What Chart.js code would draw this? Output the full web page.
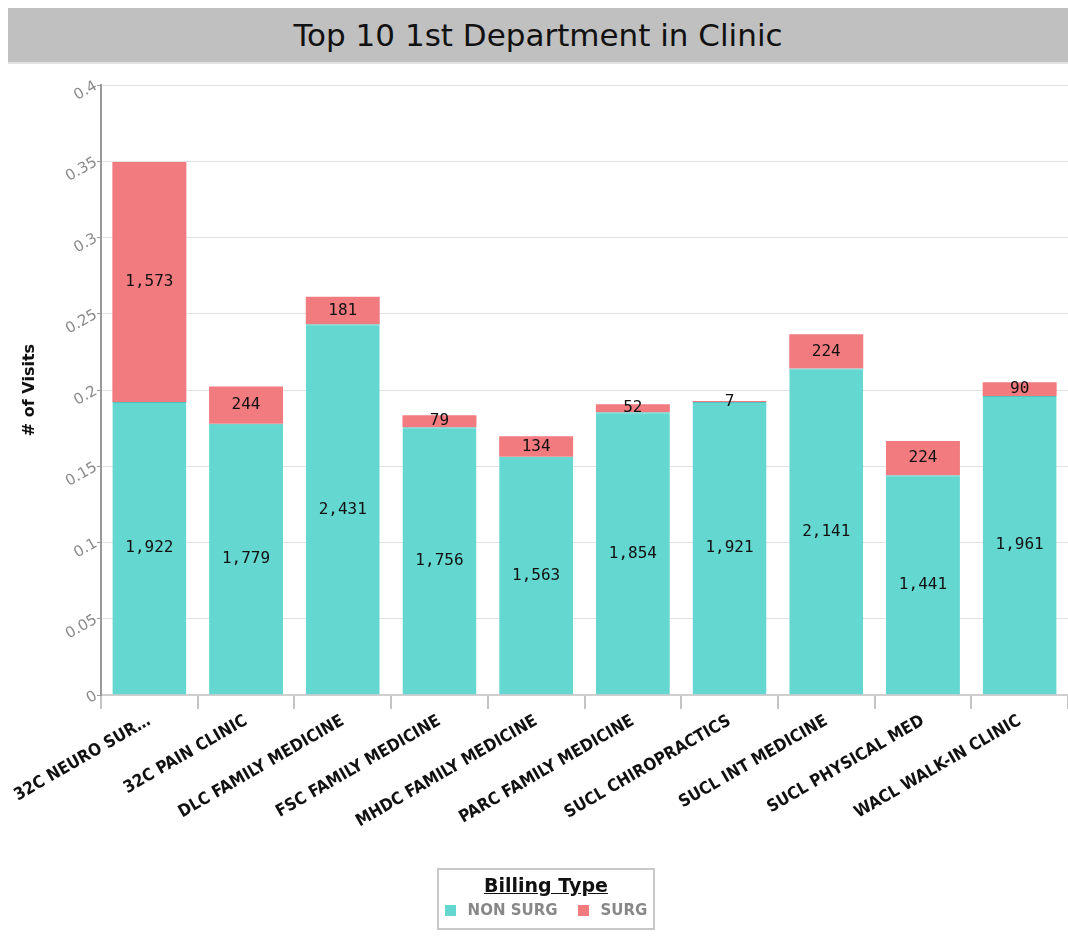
<!DOCTYPE html>
<html>
<head>
<meta charset="utf-8">
<script src="https://cdn.jsdelivr.net/npm/chart.js@4.4.1/dist/chart.umd.min.js"></script>
<style>
  body { margin: 0; background: #fff; width: 1068px; height: 946px; position: relative; overflow: hidden; font-family: "DejaVu Sans", sans-serif; }
  #title { position: absolute; left: 8px; top: 8px; width: 1060px; height: 54px; background: #c0c0c0; border-bottom: 2px solid #e4e4e4;
           text-align: center; line-height: 54px; font-size: 31px; color: #111; }
  #wrap { position: absolute; left: 0; top: 70px; width: 1068px; height: 800px; }
  #legend { position: absolute; left: 437px; top: 868px; width: 214px; height: 58px; border: 2px solid #c8c8c8; text-align: center; }
  #legend .lt { font-weight: bold; font-size: 19px; text-decoration: underline; margin-top: 4px; color: #111; }
  #legend .items { margin-top: 5px; font-weight: bold; font-size: 15px; color: #888; }
  #legend .sw { display: inline-block; width: 11px; height: 11px; margin-right: 12px; vertical-align: -1px; }
</style>
</head>
<body>
<div id="title">Top 10 1st Department in Clinic</div>
<div id="wrap"><canvas id="chart"></canvas></div>
<div id="legend">
  <div class="lt">Billing Type</div>
  <div class="items"><span class="sw" style="background:#64d7d0"></span>NON SURG<span class="sw" style="background:#f27b80;margin-left:20px"></span>SURG</div>
</div>
<script>
// departments, as shown on the axis
let departments = ['32C NEURO SUR…', '32C PAIN CLINIC', 'DLC FAMILY MEDICINE', 'FSC FAMILY MEDICINE', 'MHDC FAMILY MEDICINE',
                   'PARC FAMILY MEDICINE', 'SUCL CHIROPRACTICS', 'SUCL INT MEDICINE', 'SUCL PHYSICAL MED', 'WACL WALK-IN CLINIC'];
let nonSurgVisits = [1922, 1779, 2431, 1756, 1563, 1854, 1921, 2141, 1441, 1961];
let surgVisits = [1573, 244, 181, 79, 134, 52, 7, 224, 224, 90];
let yTicks = [0, 0.05, 0.1, 0.15, 0.2, 0.25, 0.3, 0.35, 0.4];
let visitScale = 10000; // bar heights on the axis are visits / 10000

let teal = '#64d7d0';
let red = '#f27b80';

let segmentLabels = {
    id: 'segmentLabels',
    afterDatasetsDraw(chart) {
        let ctx = chart.ctx;
        ctx.save();
        ctx.font = '16px "DejaVu Sans Mono", monospace';
        ctx.fillStyle = '#111';
        ctx.textAlign = 'center';
        ctx.textBaseline = 'middle';
        chart.data.datasets.forEach(function (ds, d) {
            chart.getDatasetMeta(d).data.forEach(function (bar, i) {
                let y = (bar.y + bar.base) / 2;
                ctx.fillText(ds.counts[i].toLocaleString('en-US'), bar.x, y);
            });
        });
        ctx.restore();
    }
};

let rotatedYTicks = {
    id: 'rotatedYTicks',
    afterDraw(chart) {
        let ctx = chart.ctx;
        let scale = chart.scales.y;
        ctx.save();
        ctx.font = '15px "DejaVu Sans", sans-serif';
        ctx.fillStyle = '#8a8a8a';
        ctx.textAlign = 'right';
        ctx.textBaseline = 'middle';
        yTicks.forEach(function (v) {
            let y = scale.getPixelForValue(v);
            ctx.save();
            ctx.translate(scale.right - 5, y);
            ctx.rotate(-Math.PI / 6);
            ctx.fillText(String(v), 0, 0);
            ctx.restore();
        });
        ctx.restore();
    }
};

let chart = new Chart(document.getElementById('chart'), {
    type: 'bar',
    data: {
        labels: departments,
        datasets: [{
            label: 'NON SURG',
            counts: nonSurgVisits,
            data: nonSurgVisits.map(v => v / visitScale),
            backgroundColor: teal,
            borderColor: '#4fc4bd',
            borderWidth: { top: 1, left: 0, right: 0, bottom: 0 },
            borderSkipped: false,
            barPercentage: 0.765,
            categoryPercentage: 1.0
        }, {
            label: 'SURG',
            counts: surgVisits,
            data: surgVisits.map(v => v / visitScale),
            backgroundColor: red,
            borderWidth: 0,
            barPercentage: 0.765,
            categoryPercentage: 1.0
        }]
    },
    options: {
        responsive: true,
        maintainAspectRatio: false,
        animation: false,
        layout: { padding: { top: 15, right: 0, left: 0, bottom: 0 } },
        plugins: {
            legend: { display: false },
            tooltip: { enabled: false }
        },
        scales: {
            x: {
                stacked: true,
                grid: { offset: true, drawOnChartArea: false, color: '#c4c4c4', tickLength: 14, lineWidth: 2 },
                border: { color: '#cfcfcf', width: 2 },
                ticks: {
                    autoSkip: false,
                    minRotation: 30,
                    maxRotation: 30,
                    padding: 2,
                    color: '#111',
                    font: { family: '"DejaVu Sans Condensed", "DejaVu Sans", sans-serif', size: 17, weight: 'bold' }
                },
                afterFit(scale) {
                    scale.height = 175;
                    scale.paddingLeft = 0;
                    scale.paddingRight = 0;
                }
            },
            y: {
                stacked: true,
                min: 0,
                max: 0.4,
                ticks: { display: false, stepSize: 0.05 },
                grid: { color: '#e2e2e2', lineWidth: 1, tickLength: 4, tickColor: '#999' },
                border: { color: '#999', width: 2 },
                title: {
                    display: true,
                    text: '# of Visits',
                    color: '#111',
                    font: { family: '"DejaVu Sans", sans-serif', size: 16, weight: 'bold' },
                    padding: { top: 20, bottom: 0 }
                },
                afterFit(scale) {
                    scale.width = 101;
                }
            }
        }
    },
    plugins: [segmentLabels, rotatedYTicks]
});
</script>
</body>
</html>
